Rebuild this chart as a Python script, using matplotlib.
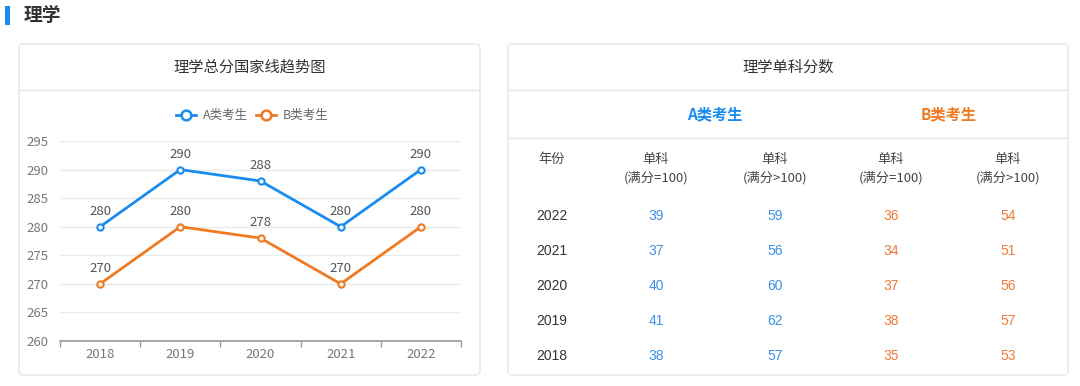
import matplotlib
matplotlib.use("Agg")
import matplotlib.pyplot as plt
from matplotlib.patches import FancyBboxPatch, Rectangle
from matplotlib.lines import Line2D

plt.rcParams['font.family'] = ['Noto Sans CJK SC', 'DejaVu Sans']

# ---- data ----
years = ["2018", "2019", "2020", "2021", "2022"]
a_total = [280, 290, 288, 280, 290]
b_total = [270, 280, 278, 270, 280]
y_ticks = [260, 265, 270, 275, 280, 285, 290, 295]

table_years = ["2022", "2021", "2020", "2019", "2018"]
a_single_100 = [39, 37, 40, 41, 38]
a_single_over = [59, 56, 60, 62, 57]
b_single_100 = [36, 34, 37, 38, 35]
b_single_over = [54, 51, 56, 57, 53]

BLUE = "#1a8cf0"
ORANGE = "#f07a22"
TBLUE = "#3d8fe6"
TORANGE = "#f07838"
DARK = "#333333"
GRAY = "#666666"
BORDER = "#e6e6e6"
NUMFONT = ['Liberation Sans', 'Noto Sans CJK SC']

W, H = 1080, 386
fig = plt.figure(figsize=(W / 100, H / 100), dpi=100)
fig.patch.set_facecolor("white")

# overlay axes in pixel coords
ov = fig.add_axes([0, 0, 1, 1], zorder=0)
ov.set_xlim(0, W)
ov.set_ylim(H, 0)
ov.axis("off")

# header
ov.add_patch(Rectangle((5, 6), 5, 19, color="#1a8cf0", lw=0))
ov.text(24, 15.5, "理学", fontsize=13.5, fontweight="bold", color=DARK, va="center", ha="left")

# cards
for (x0, x1) in [(19, 480), (508, 1068)]:
    ov.add_patch(FancyBboxPatch((x0, 44), x1 - x0, 331,
                                boxstyle="round,pad=0,rounding_size=4",
                                fc="white", ec=BORDER, lw=1))
    ov.add_line(Line2D([x0, x1], [90, 90], color=BORDER, lw=1))

ov.text(250, 67, "理学总分国家线趋势图", fontsize=11, color=DARK, ha="center", va="center")
ov.text(788, 67, "理学单科分数", fontsize=11, color=DARK, ha="center", va="center")

# legend (drawn manually)
for xs, col, label in [(176, BLUE, "A类考生"), (256, ORANGE, "B类考生")]:
    ov.add_line(Line2D([xs, xs + 20], [115, 115], color=col, lw=2))
    ov.plot([xs + 10], [115], marker="o", ms=7, mfc="white", mec=col, mew=1.8)
    ov.text(xs + 27, 115, label, fontsize=9, color=GRAY, ha="left", va="center")

# ---- line chart ----
ax = fig.add_axes([60 / W, (H - 341) / H, 401 / W, 200 / H], zorder=2)
ax.patch.set_alpha(0)
x = list(range(len(years)))
ax.plot(x, a_total, color=BLUE, lw=2, marker="o", ms=4.5, mfc="white", mec=BLUE, mew=1.5, zorder=3)
ax.plot(x, b_total, color=ORANGE, lw=2, marker="o", ms=4.5, mfc="white", mec=ORANGE, mew=1.5, zorder=3)
for xi, v in zip(x, a_total):
    ax.annotate(str(v), (xi, v), xytext=(0, 6.5), textcoords="offset points",
                ha="center", va="bottom", fontsize=9.5, color="#555555")
for xi, v in zip(x, b_total):
    ax.annotate(str(v), (xi, v), xytext=(0, 6.5), textcoords="offset points",
                ha="center", va="bottom", fontsize=9.5, color="#555555")

ax.set_xlim(-0.5, len(years) - 0.5)
ax.set_ylim(y_ticks[0], y_ticks[-1])
ax.set_yticks(y_ticks)
ax.set_yticklabels([str(t) for t in y_ticks], fontsize=9.5, color="#777777")
ax.set_xticks(x)
ax.set_xticklabels(years, fontsize=9.5, color="#777777")
ax.set_xticks([i - 0.5 for i in range(len(years) + 1)], minor=True)
ax.tick_params(axis="x", which="major", length=0, pad=5)
ax.tick_params(axis="x", which="minor", length=4, color="#999999", width=1)
ax.tick_params(axis="y", length=0, pad=8)
ax.grid(axis="y", color="#eaeaea", lw=1)
ax.set_axisbelow(True)
for s in ["top", "right", "left"]:
    ax.spines[s].set_visible(False)
ax.spines["bottom"].set_color("#999999")
ax.spines["bottom"].set_linewidth(1.2)

# ---- table ----
ov.text(715, 114, "A类考生", fontsize=11, fontweight="bold", color=BLUE, ha="center", va="center")
ov.text(949, 114, "B类考生", fontsize=11, fontweight="bold", color=ORANGE, ha="center", va="center")
ov.add_line(Line2D([508, 1068], [138, 138], color=BORDER, lw=1))

col_x = [552, 656, 775, 891, 1008]
ov.text(col_x[0], 159, "年份", fontsize=9.5, color="#444444", ha="center", va="center")
sub = ["(满分=100)", "(满分>100)", "(满分=100)", "(满分>100)"]
for cx, s in zip(col_x[1:], sub):
    ov.text(cx, 159, "单科", fontsize=9.5, color="#444444", ha="center", va="center")
    ov.text(cx, 178, s, fontsize=9.5, color="#444444", ha="center", va="center")

row_y = [216, 251, 286, 321, 356]
for i, ry in enumerate(row_y):
    kw = dict(fontsize=10, ha="center", va="center", family=NUMFONT)
    ov.text(col_x[0], ry, table_years[i], color=DARK, **kw)
    ov.text(col_x[1], ry, str(a_single_100[i]), color=TBLUE, **kw)
    ov.text(col_x[2], ry, str(a_single_over[i]), color=TBLUE, **kw)
    ov.text(col_x[3], ry, str(b_single_100[i]), color=TORANGE, **kw)
    ov.text(col_x[4], ry, str(b_single_over[i]), color=TORANGE, **kw)

fig.savefig("out.png", dpi=100, facecolor="white")
